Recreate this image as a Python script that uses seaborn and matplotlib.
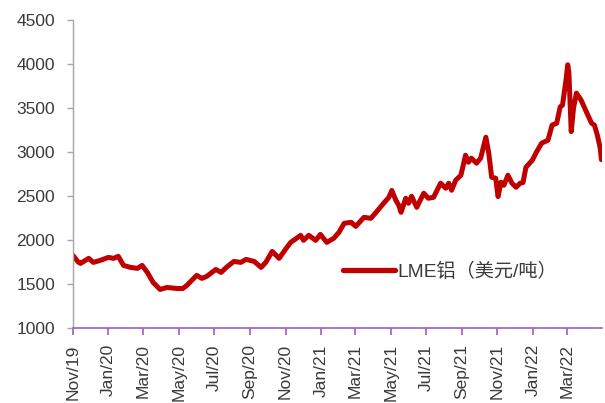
import matplotlib
matplotlib.use("Agg")
import matplotlib.pyplot as plt
import matplotlib.dates as mdates
import pandas as pd
import seaborn as sns

# LME aluminium price, USD per tonne
dates = [
    "2019-11-01", "2019-11-10", "2019-11-14", "2019-11-28", "2019-12-06", "2019-12-18",
    "2020-01-01", "2020-01-10", "2020-01-18", "2020-01-27", "2020-02-08", "2020-02-20",
    "2020-02-28", "2020-03-08", "2020-03-18", "2020-03-30", "2020-04-11", "2020-04-28",
    "2020-05-08", "2020-05-15", "2020-06-01", "2020-06-10", "2020-06-18", "2020-07-04",
    "2020-07-13", "2020-07-22", "2020-08-04", "2020-08-16", "2020-08-25", "2020-09-08",
    "2020-09-20", "2020-09-28", "2020-10-09", "2020-10-21", "2020-11-02", "2020-11-10",
    "2020-11-27", "2020-12-02", "2020-12-11", "2020-12-23", "2020-12-31", "2021-01-11",
    "2021-01-23", "2021-02-01", "2021-02-10", "2021-02-22", "2021-03-02", "2021-03-16",
    "2021-03-28", "2021-04-06", "2021-04-19", "2021-04-28", "2021-05-03", "2021-05-10",
    "2021-05-15", "2021-05-19", "2021-05-27", "2021-06-01", "2021-06-06", "2021-06-15",
    "2021-06-27", "2021-07-05", "2021-07-14", "2021-07-26", "2021-08-04", "2021-08-09",
    "2021-08-14", "2021-08-21", "2021-08-30", "2021-09-07", "2021-09-12", "2021-09-17",
    "2021-09-26", "2021-10-03", "2021-10-12", "2021-10-17", "2021-10-22", "2021-10-29",
    "2021-11-02", "2021-11-07", "2021-11-12", "2021-11-19", "2021-11-26", "2021-12-03",
    "2021-12-10", "2021-12-15", "2021-12-20", "2021-12-31", "2022-01-07", "2022-01-16",
    "2022-01-27", "2022-02-03", "2022-02-11", "2022-02-17", "2022-02-21", "2022-02-27",
    "2022-03-02", "2022-03-04", "2022-03-08", "2022-03-12", "2022-03-17", "2022-03-25",
    "2022-04-03", "2022-04-12", "2022-04-17", "2022-04-22", "2022-04-27", "2022-04-29",
]
prices = [
    1820, 1745, 1730, 1787, 1741, 1764,
    1798, 1787, 1810, 1707, 1684, 1673,
    1707, 1627, 1513, 1433, 1456, 1444,
    1444, 1479, 1593, 1559, 1581, 1661,
    1627, 1684, 1752, 1741, 1775, 1752,
    1684, 1741, 1866, 1787, 1900, 1969,
    2049, 1992, 2049, 1992, 2060, 1969,
    2015, 2083, 2186, 2197, 2151, 2254,
    2243, 2311, 2414, 2482, 2560, 2448,
    2391, 2311, 2471, 2414, 2494, 2368,
    2528, 2471, 2482, 2642, 2585, 2642,
    2562, 2676, 2733, 2961, 2881, 2927,
    2870, 2927, 3166, 2984, 2710, 2699,
    2490, 2653, 2619, 2733, 2642, 2596,
    2642, 2650, 2824, 2904, 2995, 3098,
    3132, 3303, 3326, 3511, 3531, 3816,
    3990, 3900, 3230, 3500, 3668, 3588,
    3455, 3326, 3303, 3189, 3040, 2910,
]
series_name = "LME铝（美元/吨）"
y_ticks = [1000, 1500, 2000, 2500, 3000, 3500, 4000, 4500]

df = pd.DataFrame({"date": pd.to_datetime(dates), "price": prices, "series": series_name})

sns.set_style("white")
plt.rcParams["font.family"] = ["Liberation Sans", "Noto Sans CJK SC", "DejaVu Sans"]

fig = plt.figure(figsize=(6.05, 4.03), dpi=100)
ax = fig.add_axes([73 / 605, 1 - 327.5 / 403, 529 / 605, 307.5 / 403])

sns.lineplot(data=df, x="date", y="price", hue="series", palette=["#C00000"],
             linewidth=3.6, ax=ax)

ax.set_xlim(pd.Timestamp("2019-11-01"), pd.Timestamp("2022-04-30"))
ax.set_ylim(1000, 4500)
ax.set_yticks(y_ticks)
ax.set_xlabel("")
ax.set_ylabel("")

ax.xaxis.set_major_locator(mdates.MonthLocator(bymonth=[1, 3, 5, 7, 9, 11]))
ax.xaxis.set_major_formatter(mdates.DateFormatter("%b/%y"))

text_color = "#3a3a3a"
axis_gray = "#a6a6a6"
axis_purple = "#A05CC0"

for side in ["top", "right"]:
    ax.spines[side].set_visible(False)
ax.spines["left"].set_color(axis_gray)
ax.spines["left"].set_linewidth(1.0)
ax.spines["bottom"].set_color(axis_purple)
ax.spines["bottom"].set_linewidth(1.2)

ax.tick_params(axis="y", direction="out", length=4, width=1, color=axis_gray,
               labelsize=12.5, labelcolor=text_color, pad=9, left=True)
ax.tick_params(axis="x", direction="out", length=5, width=1.2, color=axis_purple,
               labelsize=12.5, labelcolor=text_color, pad=7, bottom=True,
               labelrotation=90)
for lbl in ax.get_xticklabels():
    lbl.set_verticalalignment("top")
    lbl.set_horizontalalignment("center")

ax.grid(False)

leg = ax.legend(loc="center left", bbox_to_anchor=(0.511, 0.182), frameon=False,
                borderpad=0, borderaxespad=0, handlelength=2.7, handletextpad=0.12,
                prop={"size": 13.8})
for line in leg.get_lines():
    line.set_linewidth(3.8)
for t in leg.get_texts():
    t.set_color(text_color)

fig.savefig("out.png", dpi=100)
